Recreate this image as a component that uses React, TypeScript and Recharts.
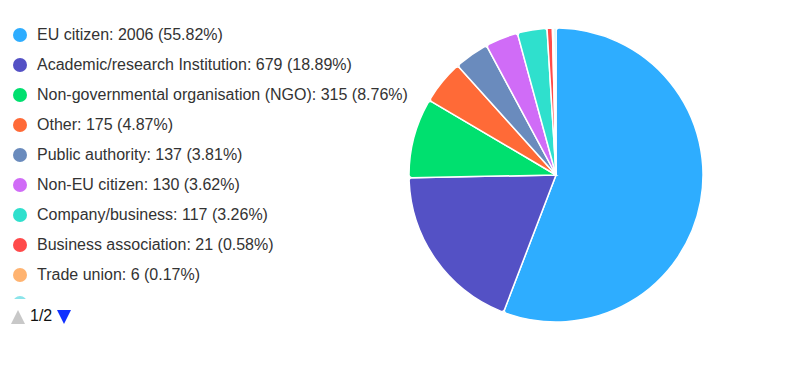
import { PieChart, Pie, Cell } from "recharts";

const categories = [
  "EU citizen",
  "Academic/research Institution",
  "Non-governmental organisation (NGO)",
  "Other",
  "Public authority",
  "Non-EU citizen",
  "Company/business",
  "Business association",
  "Trade union",
];
const counts = [2006, 679, 315, 175, 137, 130, 117, 21, 6];
const percents = ["55.82", "18.89", "8.76", "4.87", "3.81", "3.62", "3.26", "0.58", "0.17"];
const colors = [
  "#2eadff",
  "#5451c5",
  "#00e06f",
  "#ff6a37",
  "#6a8bbd",
  "#d06cf7",
  "#2fe0cd",
  "#ff4a4a",
  "#ffb370",
];
// rest of the entries live on legend page 2 (only the total is known)
const hiddenCount = 8;
const hiddenColor = "#8be4ea";

const data = [
  ...categories.map((name, i) => ({ name, value: counts[i], color: colors[i] })),
  { name: "page2", value: hiddenCount, color: hiddenColor },
];

const font = "'Liberation Sans', Arial, sans-serif";

function LegendList() {
  return (
    <div style={{ position: "absolute", left: 0, top: 0, width: 420, height: 340, fontFamily: font }}>
      {categories.map((name, i) => (
        <div
          key={name}
          style={{ position: "absolute", left: 13, top: 25 + i * 30, height: 20, display: "flex", alignItems: "center", fontSize: 16, color: "#333", whiteSpace: "nowrap" }}
        >
          <span style={{ flexShrink: 0, width: 14, height: 14, borderRadius: 7, background: colors[i], display: "inline-block", marginRight: 10 }} />
          {`${name}: ${counts[i]} (${percents[i]}%)`}
        </div>
      ))}
      {/* next legend dot, clipped by the pager area */}
      <div style={{ position: "absolute", left: 13, top: 296, width: 14, height: 3, overflow: "hidden" }}>
        <span style={{ position: "absolute", top: 0, left: 0, width: 14, height: 14, borderRadius: 7, background: hiddenColor }} />
      </div>
      <div style={{ position: "absolute", left: 11, top: 307, display: "flex", alignItems: "center", fontSize: 16, color: "#111" }}>
        <svg width="14" height="16"><polygon points="7,2 14,16 0,16" fill="#c8c8c8" /></svg>
        <span style={{ margin: "0 5px 0 5px" }}>1/2</span>
        <svg width="14" height="16"><polygon points="0,2 14,2 7,16" fill="#1030ff" /></svg>
      </div>
    </div>
  );
}

export default function App() {
  return (
    <div style={{ width: 790, height: 367, position: "relative", margin: -8, background: "#fff" }}>
      <PieChart width={790} height={367} margin={{ top: 0, right: 0, bottom: 0, left: 0 }}>
        <Pie
          data={data}
          dataKey="value"
          nameKey="name"
          cx={556}
          cy={175}
          outerRadius={147}
          startAngle={90}
          endAngle={-270}
          stroke="#fff"
          strokeWidth={1.5}
          cornerRadius={3}
          isAnimationActive={false}
        >
          {data.map((d, i) => (
            <Cell key={i} fill={d.color} />
          ))}
        </Pie>
      </PieChart>
      <LegendList />
    </div>
  );
}
